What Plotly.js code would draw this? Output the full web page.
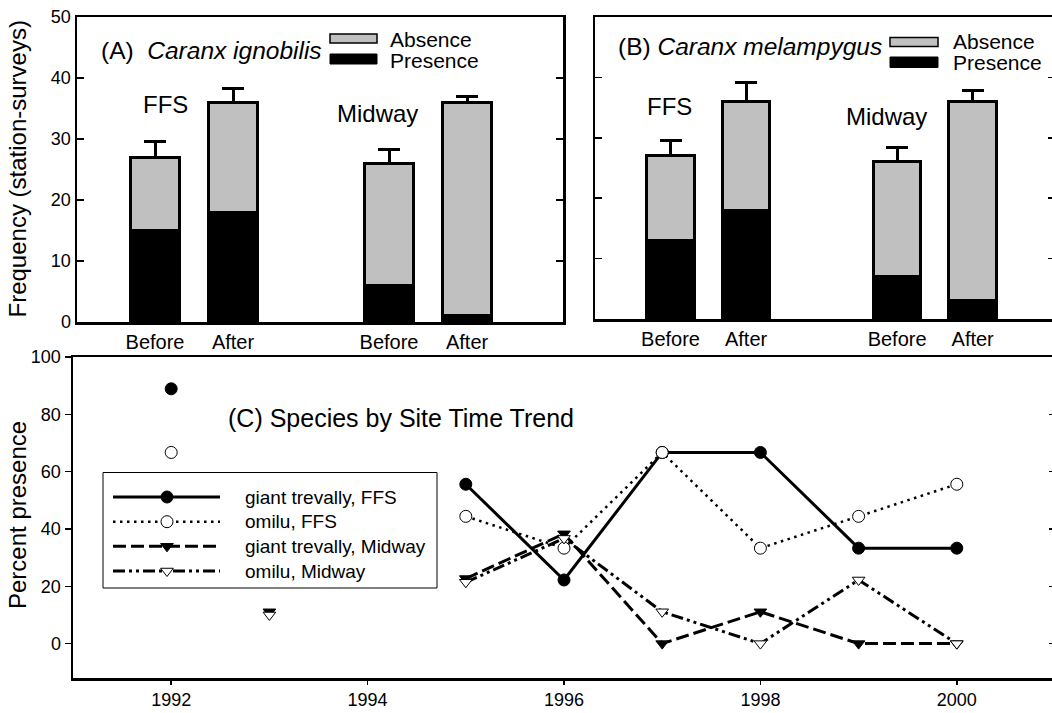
<!DOCTYPE html>
<html><head><meta charset="utf-8">
<script src="https://cdn.plot.ly/plotly-3.0.1.min.js"></script>
<style>html,body{margin:0;padding:0;overflow:hidden;background:#fff}#chart{width:1060px;height:713px}</style>
</head><body><div id="chart"></div>
<script>
// ---------------- data ----------------
const barKeys = ['FFS Before', 'FFS After', 'Midway Before', 'Midway After'];
const barPeriods = ['Before', 'After', 'Before', 'After'];
const siteLabels = ['FFS', 'Midway'];
const ignobilisPresence = [15, 18, 6, 1];
const ignobilisAbsence = [12, 18, 20, 35];
const ignobilisErr = [2.6, 2.3, 2.2, 1.0];
const melampygusPresence = [13, 18, 7, 3];
const melampygusAbsence = [14, 18, 19, 33];
const melampygusErr = [2.6, 3.1, 2.4, 1.8];

const years = [1992, 1993, 1994, 1995, 1996, 1997, 1998, 1999, 2000];
const giantFFS = [88.9, null, null, 55.6, 22.2, 66.7, 66.7, 33.3, 33.3];
const omiluFFS = [66.7, null, null, 44.4, 33.3, 66.7, 33.3, 44.4, 55.6];
const giantMidway = [null, 11.1, null, 22.7, 38.3, 0, 11.1, 0, 0];
const omiluMidway = [null, 10.0, null, 21.4, 36.7, 11.1, 0, 22.2, 0];
const yearTicks = [1992, 1994, 1996, 1998, 2000];
const seriesNames = ['giant trevally, FFS', 'omilu, FFS', 'giant trevally, Midway', 'omilu, Midway'];
const seriesValues = [giantFFS, omiluFFS, giantMidway, omiluMidway];

// ---------------- helpers ----------------
const W = 1060, H = 713;
const fx = p => p / W;
const fy = p => 1 - p / H;
const FONT = '"Liberation Sans", Arial, Helvetica, sans-serif';

const lineStyles = [
  {color: '#000', dash: 'solid', width: 3},
  {color: '#000', dash: '2.5px,4.5px', width: 2.5},
  {color: '#000', dash: '13px,5px', width: 3},
  {color: '#000', dash: '12px,4px,3px,4px,3px,4px', width: 3}
];
const markerStyles = [
  {symbol: 'circle', size: 12, color: '#000', line: {color: '#000', width: 1}},
  {symbol: 'circle', size: 12, color: '#fff', line: {color: '#000', width: 1}},
  {symbol: 'triangle-down', size: 11, color: '#000', line: {color: '#000', width: 1}},
  {symbol: 'triangle-down', size: 11, color: '#fff', line: {color: '#000', width: 1}}
];

function barPair(presence, absence, err, xa, ya) {
  return [
    {type: 'bar', x: barKeys, y: presence, name: 'Presence', xaxis: xa, yaxis: ya, width: 0.63,
     marker: {color: '#000', line: {color: '#000', width: 3}}, showlegend: false, hoverinfo: 'skip'},
    {type: 'bar', x: barKeys, y: absence, name: 'Absence', xaxis: xa, yaxis: ya, width: 0.63,
     marker: {color: '#c0c0c0', line: {color: '#000', width: 3}}, showlegend: false, hoverinfo: 'skip',
     error_y: {type: 'data', symmetric: false, array: err, arrayminus: err.map(() => 0),
               color: '#000', thickness: 3, width: 11}}
  ];
}

const traces = [
  ...barPair(ignobilisPresence, ignobilisAbsence, ignobilisErr, 'x', 'y'),
  ...barPair(melampygusPresence, melampygusAbsence, melampygusErr, 'x2', 'y2')
];
seriesValues.forEach((vals, i) => {
  traces.push({type: 'scatter', mode: 'lines+markers', x: years, y: vals, name: seriesNames[i],
    xaxis: 'x3', yaxis: 'y3', line: lineStyles[i], marker: markerStyles[i],
    connectgaps: false, showlegend: false, hoverinfo: 'skip'});
});
// carrier for the right-hand tick axis of panel C
traces.push({type: 'scatter', x: [], y: [], xaxis: 'x3', yaxis: 'y4', showlegend: false, hoverinfo: 'skip'});

function txt(text, x, y, size, xanchor, extra) {
  return Object.assign({text, xref: 'paper', yref: 'paper', x: fx(x), y: fy(y), xanchor: xanchor || 'left',
    yanchor: 'middle', showarrow: false, font: {family: FONT, size, color: '#000'}}, extra || {});
}
function rectPx(x0, x1, y0, y1, fill, lw) {
  return {type: 'rect', xref: 'paper', yref: 'paper', x0: fx(x0), x1: fx(x1), y0: fy(y1), y1: fy(y0),
    fillcolor: fill, line: {color: '#000', width: lw}, layer: 'above'};
}

const annotations = [
  txt('(A)  <i>Caranx ignobilis</i>', 99, 50, 24.5),
  txt('Absence', 388, 39.5, 21), txt('Presence', 388, 60.5, 21),
  txt(siteLabels[0], 165.5, 104, 24, 'center'), txt(siteLabels[1], 377.5, 113, 24, 'center'),
  txt('(B) <i>Caranx melampygus</i>', 616, 46.5, 24.5),
  txt('Absence', 951, 41.5, 21), txt('Presence', 951, 62.5, 21),
  txt(siteLabels[0], 669, 106, 24, 'center'), txt(siteLabels[1], 886, 116, 24, 'center'),
  txt('(C) Species by Site Time Trend', 226, 418, 25),
  txt('Frequency (station-surveys)', 17, 169.5, 24, 'center', {textangle: -90}),
  txt('Percent presence', 17, 515, 24, 'center', {textangle: -90})
];
const legRows = [497, 521.7, 546.3, 571];
seriesNames.forEach((n, i) => annotations.push(txt(n, 243, legRows[i], 19)));

const shapes = [
  rectPx(330, 377, 34, 43, '#c0c0c0', 1.5), rectPx(330, 377, 54, 64, '#000', 1),
  rectPx(890, 938, 37.5, 46.5, '#c0c0c0', 1.5), rectPx(890, 938, 57, 67.5, '#000', 1),
  rectPx(103, 437, 472.5, 588, '#fff', 1)
];
legRows.forEach((ry, i) => {
  shapes.push({type: 'line', xref: 'paper', yref: 'paper', x0: fx(113), x1: fx(220), y0: fy(ry), y1: fy(ry),
    line: {color: '#000', width: lineStyles[i].width, dash: lineStyles[i].dash}, layer: 'above'});
  const m = markerStyles[i];
  const base = {xref: 'paper', yref: 'paper', xsizemode: 'pixel', ysizemode: 'pixel', xanchor: fx(167), yanchor: fy(ry),
    fillcolor: m.color, line: {color: '#000', width: 1}, layer: 'above'};
  if (m.symbol === 'circle') {
    shapes.push(Object.assign({type: 'circle', x0: -6, x1: 6, y0: -6, y1: 6}, base));
  } else {
    shapes.push(Object.assign({type: 'path', path: 'M-6.35,2.75 L6.35,2.75 L0,-5.5 Z'}, base));
  }
});

const axBase = {showline: true, linecolor: '#000', linewidth: 2.5, showgrid: false, zeroline: false,
  tickcolor: '#000', tickwidth: 1.5, tickfont: {family: FONT, size: 18, color: '#000'}, fixedrange: true};
const catArray = [barKeys[0], barKeys[1], ' ', barKeys[2], barKeys[3]];

const layout = {
  width: W, height: H, margin: {l: 0, r: 0, t: 0, b: 0}, paper_bgcolor: '#fff', plot_bgcolor: 'rgba(0,0,0,0)',
  barmode: 'stack', showlegend: false, font: {family: FONT, color: '#000'},
  xaxis: Object.assign({}, axBase, {domain: [fx(77), fx(563)], anchor: 'y', type: 'category', categoryorder: 'array',
    categoryarray: catArray, range: [-1, 5.23], tickmode: 'array', tickvals: barKeys, ticktext: barPeriods,
    ticks: '', mirror: true, tickfont: {family: FONT, size: 20, color: '#000'}}),
  yaxis: Object.assign({}, axBase, {domain: [fy(322), fy(17)], anchor: 'x', range: [0, 50], tick0: 0, dtick: 10,
    ticks: 'inside', ticklen: 7, mirror: 'ticks'}),
  xaxis2: Object.assign({}, axBase, {domain: [fx(595), fx(1055)], anchor: 'y2', type: 'category', categoryorder: 'array',
    categoryarray: catArray, range: [-1, 5.09], tickmode: 'array', tickvals: barKeys, ticktext: barPeriods,
    ticks: '', mirror: true, tickfont: {family: FONT, size: 20, color: '#000'}}),
  yaxis2: Object.assign({}, axBase, {domain: [fy(319), fy(17)], anchor: 'x2', range: [0, 50], tick0: 0, dtick: 10,
    ticks: 'inside', ticklen: 7, mirror: 'ticks', showticklabels: false}),
  xaxis3: Object.assign({}, axBase, {domain: [fx(73), fx(1055)], anchor: 'y3', range: [1991, 2001],
    tickmode: 'array', tickvals: yearTicks, ticks: 'outside', ticklen: 4, mirror: true}),
  yaxis3: Object.assign({}, axBase, {domain: [fy(678), fy(357)], anchor: 'x3', range: [-12, 100], tick0: 0, dtick: 20,
    ticks: 'outside', ticklen: 6, mirror: true}),
  yaxis4: {overlaying: 'y3', anchor: 'x3', side: 'right', range: [-12, 100], tick0: 0, dtick: 20, ticks: 'inside',
    ticklen: 6, tickwidth: 1.5, tickcolor: '#000', showline: false, showticklabels: false, showgrid: false,
    zeroline: false, fixedrange: true},
  annotations, shapes
};

Plotly.newPlot('chart', traces, layout, {displayModeBar: false, staticPlot: true});
</script>
</body></html>
